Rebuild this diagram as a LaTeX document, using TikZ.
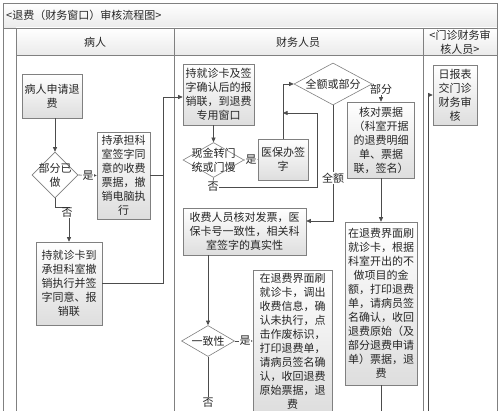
\documentclass[tikz,border=0pt]{standalone}
\usepackage{fontspec}
\setmainfont{Noto Sans CJK SC}
\usetikzlibrary{arrows.meta,shapes.geometric}
\begin{document}
\begin{tikzpicture}[x=1pt,y=-1pt,
  every node/.style={font=\fontsize{11}{14}\selectfont, text=black!85},
  box/.style={draw=black!50, shading=axis, top color=white, bottom color=black!13, inner sep=0pt, align=center, line width=0.6pt},
  dia/.style={diamond, draw=black!50, fill=white, inner sep=0pt, line width=0.6pt},
  dtxt/.style={inner sep=0pt, align=center},
  lab/.style={inner sep=0.6pt, fill=white},
  conn/.style={draw=black!70, line width=0.6pt},
  arr/.style={conn, -{Triangle[length=4.5pt,width=4pt]}},
  frm/.style={draw=black!50, line width=0.6pt}
]
\useasboundingbox (0,0) rectangle (500,411);
\clip (0,0) rectangle (500,411);
\fill[white] (0,0) rectangle (500,411);
% backgrounds
\shade[top color=white, bottom color=black!8] (3,3) rectangle (497,28);
\shade[top color=white, bottom color=black!8] (16,28) rectangle (497,55);
% frame
\draw[frm] (3,3) rectangle (497,420);
\draw[frm] (3,28) -- (497,28);
\draw[frm] (16,28) -- (16,420);
\draw[frm] (16,55) -- (497,55);
\draw[frm] (174,28) -- (174,420);
\draw[frm] (423,28) -- (423,420);
% header texts
\node[anchor=west, inner sep=0pt] (title) at (6,15.5) {<退费（财务窗口）审核流程图>};
\node[inner sep=0pt] (h1) at (95,42) {病人};
\node[inner sep=0pt] (h2) at (298,42) {财务人员};
\node[inner sep=0pt, align=center] (h3) at (460,42) {<门诊财务审\\核人员>};
% patient lane
\node[box, minimum width=60pt, minimum height=44pt] (p1) at (52,96) {病人申请退\\费};
\node[dia, minimum width=46pt, minimum height=46pt] (d1) at (55,175) {};
\node[dtxt] (d1t) at (d1) {部分已\\做};
\node[box, minimum width=53pt, minimum height=87pt] (p2) at (123.5,175.5) {持承担科\\室签字同\\意的收费\\票据，撤\\销电脑执\\行};
\node[box, minimum width=66pt, minimum height=83pt] (p3) at (69,283.5) {持就诊卡到\\承担科室撤\\销执行并签\\字同意、报\\销联};
% finance lane
\node[box, minimum width=71pt, minimum height=61pt] (f1) at (218.5,94.5) {持就诊卡及签\\字确认后的报\\销联，到退费\\专用窗口};
\node[dia, minimum width=61pt, minimum height=35pt] (d2) at (213.5,160) {};
\node[dtxt] (d2t) at (d2) {现金转门\\统或门慢};
\node[box, minimum width=50pt, minimum height=41pt] (f2) at (283,159.5) {医保办签\\字};
\node[dia, minimum width=78pt, minimum height=42pt] (d3) at (333,84) {};
\node[dtxt] (d3t) at (d3) {全额或部分};
\node[box, minimum width=67pt, minimum height=76pt] (f3) at (381,140) {核对票据\\（科室开据\\的退费明细\\单、票据\\联，签名）};
\node[box, minimum width=123pt, minimum height=47pt] (f4) at (244.5,231.5) {收费人员核对发票，医\\保卡号一致性，相关科\\室签字的真实性};
\node[dia, minimum width=53pt, minimum height=31pt] (d4) at (208,341) {};
\node[dtxt] (d4t) at (d4) {一致性};
\node[box, minimum width=79pt, minimum height=142pt] (f5) at (292.5,341) {在退费界面刷\\就诊卡，调出\\收费信息，确\\认未执行，点\\击作废标识，\\打印退费单，\\请病员签名确\\认，收回退费\\原始票据，退\\费};
\node[box, minimum width=72pt, minimum height=163pt] (f6) at (381,303.5) {在退费界面刷\\就诊卡，根据\\科室开出的不\\做项目的金\\额，打印退费\\单，请病员签\\名确认，收回\\退费原始（及\\部分退费申请\\单）票据，退\\费};
% right lane
\node[box, minimum width=44pt, minimum height=60pt] (r1) at (455,95) {日报表\\交门诊\\财务审\\核};
% label nodes referenced by connectors
\node[inner sep=0.6pt] (no2) at (213,187) {否};
\node[inner sep=0.6pt] (no4) at (208,403) {否};
\node[inner sep=0.6pt] (lb3) at (381,89) {部分};
% connectors
\draw[arr] (p1.south -| d1.north) -- (d1.north);
\draw[arr] (d1.east) -- (p2.west);
\coordinate (c1) at (55,207);
\draw[arr] (d1.south) -- (c1) -| (p3.north);
\coordinate (jv) at (163,97);
\draw[conn] (p2.east) -| (jv);
\draw[conn] (p3.east) -| (jv);
\draw[arr] (jv) -- (jv -| f1.west);
\draw[arr] (f1.south -| d2.north) -- (d2.north);
\draw[arr] (d2.east) -- (f2.west);
\draw[arr] (f2.north) |- (d3.west);
\draw[conn] (d2.south) -- (no2.north);
\coordinate (k1) at (317,113);
\draw[arr] (no2.east) -| (k1) -- (k1 -| f2.north);
\draw[arr] (lb3.south) -- (lb3.south |- f3.north);
\coordinate (k2) at (333,221);
\draw[arr] (d3.south) -- (k2) -- (k2 -| f4.east);
\draw[arr] (f4.south -| d4.north) -- (d4.north);
\draw[arr] (d4.east) -- (f5.west);
\draw[conn] (d4.south) -- (no4.north);
\draw[arr] (f3.south) -- (f3.south |- f6.north);
\coordinate (e1) at (381,420);
\draw[conn] (f6.south) -- (e1);
\coordinate (e2) at (428,420);
\coordinate (e3) at (428,95);
\draw[arr] (e2) -- (e3) -- (e3 -| r1.west);
% labels on lines
\node[lab] (y1) at (88,176) {是};
\node[lab] (y2) at (251,160) {是};
\node[lab] (y4) at (245,341) {是};
\node[lab] (q1) at (333,178) {全额};
\node[lab] (n1) at (67,213) {否};
\end{tikzpicture}
\end{document}
